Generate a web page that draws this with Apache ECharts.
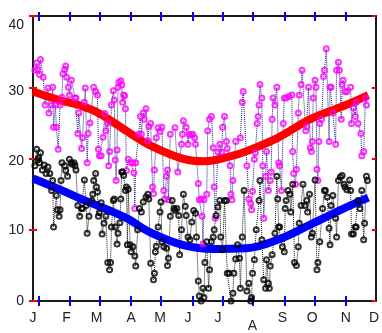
<!DOCTYPE html>
<html>
<head>
<meta charset="utf-8">
<script src="https://cdn.jsdelivr.net/npm/echarts@6/dist/echarts.min.js"></script>
<style>
  html, body { margin: 0; padding: 0; background: #fff; }
  #chart { width: 382px; height: 333px; }
</style>
</head>
<body>
<div id="chart"></div>
<script>
// day-of-year positions of the month letters and of the blue ticks
const monthLabels = ['J', 'F', 'M', 'A', 'M', 'J', 'J', 'A', 'S', 'O', 'N', 'D'];
const labelDays = [0, 36, 68, 105, 136, 166, 198, 235, 267, 299, 335, 365];
const tickDays = [6, 39, 71, 105, 137, 171, 203, 235, 269, 302, 335];
const yTicks = [0, 10, 20, 30, 40];

// daily maxima (magenta circles)
const maxDays = [2,4,5,7,8,11,13,16,17,20,21,22,24,25,27,29,31,32,34,35,
  36,38,39,41,45,46,48,49,52,53,55,56,58,59,61,65,67,69,70,71,
  73,75,77,78,80,81,82,84,86,87,88,89,90,91,92,94,95,96,97,98,
  99,100,102,105,107,108,109,110,113,115,116,118,119,121,123,124,126,128,129,130,
  132,134,136,138,140,141,143,144,145,147,152,155,159,160,161,164,166,167,169,171,
  173,174,177,178,180,181,182,183,186,187,189,191,193,194,195,198,200,202,203,205,
  207,208,211,212,213,214,217,222,224,225,229,231,233,234,235,237,238,240,241,242,
  243,245,246,247,249,250,252,254,255,256,257,259,261,263,264,266,268,269,271,274,
  277,278,279,281,282,284,285,287,288,292,293,295,297,298,299,300,302,303,304,305,
  306,307,309,311,312,314,317,318,319,321,324,325,327,328,330,331,332,334,336,340,
  341,343,345,346,348,351,352,354,356,357];
const maxTemps = [32.4,33.4,32.5,31.8,33.9,31.4,27.5,29.9,26.4,27.5,30,24.4,27.5,24.4,21.3,27.5,28.6,31.9,32.5,33,
  31.4,30,28.9,31,28.5,28.5,23.5,26.4,21.4,22.9,27.9,29.9,19.4,23.5,25,30,29.4,28.9,21.3,20.4,
  20.4,23,26.3,23.9,25,19,21,27.5,29.5,28.2,19.8,16.9,21.2,30,30.7,30.9,30.3,27.9,28.9,28.8,
  27,18.3,19.9,19.4,19.4,18,13,19.4,23.4,25.9,23.4,26.4,25.5,27,22.5,24.5,24.9,16,15.1,18.4,
  22.9,24.3,23.8,24.4,15.5,14.3,17.5,18.4,14.2,23.4,24.3,18.1,22,23.4,25.3,24.4,22,23.4,23.3,23.4,
  22.9,22,16.5,14.2,14.3,11.9,8,14.2,15,23.9,25.5,25.9,21.5,16,11.6,20.9,22,20.9,24.4,25.9,
  22.4,21.4,19,15,14.2,16.9,22.4,22.9,27.9,29.4,19,14.3,13.7,12.8,15.4,19.9,20.8,24.9,25.9,27.5,
  30.4,28.5,19,11.6,17.5,21,15.5,16.9,18.1,25.5,28.5,27.5,30,19.4,19,15.5,24.9,28.5,28.5,28.7,
  28.9,21,17.9,16.4,18.5,26.4,28.9,30.4,32.4,23.9,24.5,30,21.5,21,22.4,28.5,31,30,18.5,16.9,
  22.4,24.9,25.5,31.5,32.4,35.4,22.4,30,30,26.4,22,32.4,33.5,32.4,25.5,30.4,31,29.4,29.4,30,
  24.9,27.1,25.9,27.9,24.9,23.5,20.4,21,28.5,27.5];

// daily minima (black circles)
const minDays = [2,4,5,6,7,8,10,12,14,16,18,20,21,22,25,26,28,29,30,31,
  34,35,37,39,41,42,44,45,46,48,50,52,53,55,57,58,60,63,64,65,
  67,68,69,70,71,73,74,76,78,80,82,83,84,86,87,88,90,91,93,94,
  95,96,97,99,100,101,102,104,105,107,109,110,112,114,116,118,121,123,124,126,
  129,130,131,132,134,136,137,138,140,143,144,145,147,149,151,152,154,156,157,159,
  161,163,164,166,168,170,172,174,175,177,178,180,182,183,184,186,188,189,191,193,
  194,196,198,200,201,203,205,207,208,210,212,214,215,217,219,221,222,224,226,229,
  231,233,234,235,237,239,242,243,245,247,249,250,252,253,254,256,259,261,262,263,
  264,267,269,270,271,273,275,276,278,280,282,284,285,287,289,291,293,294,296,298,
  299,302,304,305,307,310,312,313,315,317,318,319,321,324,325,327,329,331,333,334,
  336,339,340,341,343,345,346,348,350,352,354,355,357,358];
const minTemps = [19,21.3,19.8,20.1,19.4,20.8,18.4,19.1,17.9,18.8,17.9,15.5,16.9,10.4,14.8,12.8,11.9,12.8,16.9,19.4,
  19,18.3,17.5,19.9,19.4,19.2,19.4,19,18.4,13.4,11.9,13,13,17,13.4,9.5,11.9,14.1,15,16.9,
  17.9,16,15.3,11.9,12.4,13.8,9.4,10.9,11.9,5.4,4.4,5.4,10.4,14.1,14.3,10.4,8,9.5,11,14.3,
  18.1,18.1,17.6,15.5,16,7.9,15.7,7.9,6.9,7.6,6.3,4.9,10,13,12.5,13.9,14.6,15,14.3,5.3,
  3,3.9,6.9,7.7,10.4,12.5,13.9,8.3,7.6,7.4,5,6,11.9,14.1,13,12.7,13,12,6.5,10,
  15,13.3,12,9,8.6,11.1,12.7,12.3,9,2.8,0.7,0,1.8,0.5,5.4,8.3,1.8,4.4,8.3,9,
  10,12,13.2,14.1,9,7.2,14.1,14.1,3.9,3.9,0,1.1,3.9,5.9,7.9,6,1.8,9,15.5,1.4,
  2.5,0,0.5,3.9,5.8,10,14.1,16.9,8.6,3,1.8,5.8,2.5,1.8,4.9,6.5,9.5,17.5,14.3,10.4,
  10.4,7.6,6.9,13,14.1,15.5,15,12.5,16.4,5.4,5,7.6,10.9,13.4,16.4,13.4,14.1,12.5,15,9,
  9.5,17,4.4,5.4,8.3,13,15.5,15.5,14.6,10.2,7.9,13.4,14.8,11.6,9,16.9,17.4,17.6,16.4,16,
  15.6,17,15.5,9.4,9.4,10.4,10.4,14.1,13,15.5,8.6,10.9,17.5,16.9];

// smoothed mean curves
const redDays = [0, 28, 49, 70, 102, 126, 162, 183, 214, 228, 262, 298, 333, 359];
const redTemps = [29.4, 28.2, 27.5, 26.4, 23.7, 21.8, 19.9, 19.6, 20.4, 21.0, 22.9, 25.6, 27.4, 28.9];
const blueDays = [0, 26, 52, 91, 102, 126, 162, 193, 228, 262, 298, 333, 359];
const blueTemps = [17.2, 15.8, 14.3, 12.2, 11.5, 9.6, 7.8, 7.3, 7.4, 8.6, 10.8, 13.0, 14.5];

const zip = (xs, ys) => xs.map((x, i) => [x, ys[i]]);

const chart = echarts.init(document.getElementById('chart'));
const font = 'Liberation Sans, Arial, sans-serif';
const blueTick = { color: '#0000ff', width: 2 };
const redTick = { color: '#ff0000', width: 2 };
const frame = { show: true, onZero: false, lineStyle: { color: '#1a1a1a', width: 2 } };
const noLine = { show: false, onZero: false };
const xBase = { type: 'value', min: 0, max: 367, splitLine: { show: false }, axisLabel: { show: false } };
const yBase = { type: 'value', min: 0, max: 40, interval: 10, splitLine: { show: false }, axisLabel: { show: false } };
// the y labels sit a little below their ticks, most of all at the top
const yLabelPad = { 0: 0, 10: 0, 20: 5, 30: 7, 40: 18 };
const yRich = {};
yTicks.forEach(v => {
  yRich['y' + v] = { fontSize: 14, color: '#222', fontFamily: font, padding: [yLabelPad[v], 0, 0, 0] };
});

chart.setOption({
  animation: false,
  backgroundColor: '#fff',
  grid: { left: 33, right: -1, top: 16, bottom: 28 },
  xAxis: [
    { ...xBase, position: 'bottom', axisLine: frame,
      axisTick: { show: true, customValues: tickDays, length: 5, lineStyle: blueTick },
      axisLabel: { show: true, customValues: labelDays, margin: 10, fontSize: 14, color: '#222', fontFamily: font,
        formatter: v => { const i = labelDays.indexOf(v); return i === 7 ? '{low|A}' : monthLabels[i]; },
        rich: { low: { fontSize: 14, color: '#222', fontFamily: font, padding: [8, 0, 0, 0] } } } },
    { ...xBase, position: 'bottom', axisLine: noLine,
      axisTick: { show: true, inside: true, customValues: tickDays, length: 5, lineStyle: blueTick } },
    { ...xBase, position: 'top', axisLine: frame,
      axisTick: { show: true, customValues: tickDays, length: 4, lineStyle: blueTick } },
    { ...xBase, position: 'top', axisLine: noLine,
      axisTick: { show: true, inside: true, customValues: tickDays, length: 5, lineStyle: blueTick } }
  ],
  yAxis: [
    { ...yBase, position: 'left', axisLine: frame,
      axisTick: { show: true, length: 4, lineStyle: redTick },
      axisLabel: { show: true, margin: 9, fontSize: 14, color: '#222', fontFamily: font,
        formatter: v => yTicks.includes(v) ? '{y' + v + '|' + v + '}' : '', rich: yRich } },
    { ...yBase, position: 'left', axisLine: noLine,
      axisTick: { show: true, inside: true, length: 4, lineStyle: redTick } },
    { ...yBase, position: 'right', axisLine: frame,
      axisTick: { show: true, inside: true, length: 4, lineStyle: redTick } }
  ],
  series: [
    { type: 'line', data: zip(maxDays, maxTemps), showSymbol: false, z: 1,
      lineStyle: { color: '#1c1c8a', width: 1, type: 'dotted' } },
    { type: 'line', data: zip(minDays, minTemps), showSymbol: false, z: 1,
      lineStyle: { color: '#111', width: 1, type: 'dotted' } },
    { type: 'line', data: zip(redDays, redTemps), smooth: 0.4, showSymbol: false, z: 2,
      lineStyle: { color: '#ff0000', width: 8 } },
    { type: 'line', data: zip(blueDays, blueTemps), smooth: 0.4, showSymbol: false, z: 2,
      lineStyle: { color: '#0000ff', width: 8 } },
    { type: 'scatter', data: zip(maxDays, maxTemps), symbol: 'circle', symbolSize: 5, z: 3,
      itemStyle: { color: 'rgba(0,0,0,0)', borderColor: '#ff00ff', borderWidth: 2 } },
    { type: 'scatter', data: zip(minDays, minTemps), symbol: 'circle', symbolSize: 5, z: 3,
      itemStyle: { color: 'rgba(0,0,0,0)', borderColor: '#000', borderWidth: 2 } }
  ]
});
</script>
</body>
</html>
